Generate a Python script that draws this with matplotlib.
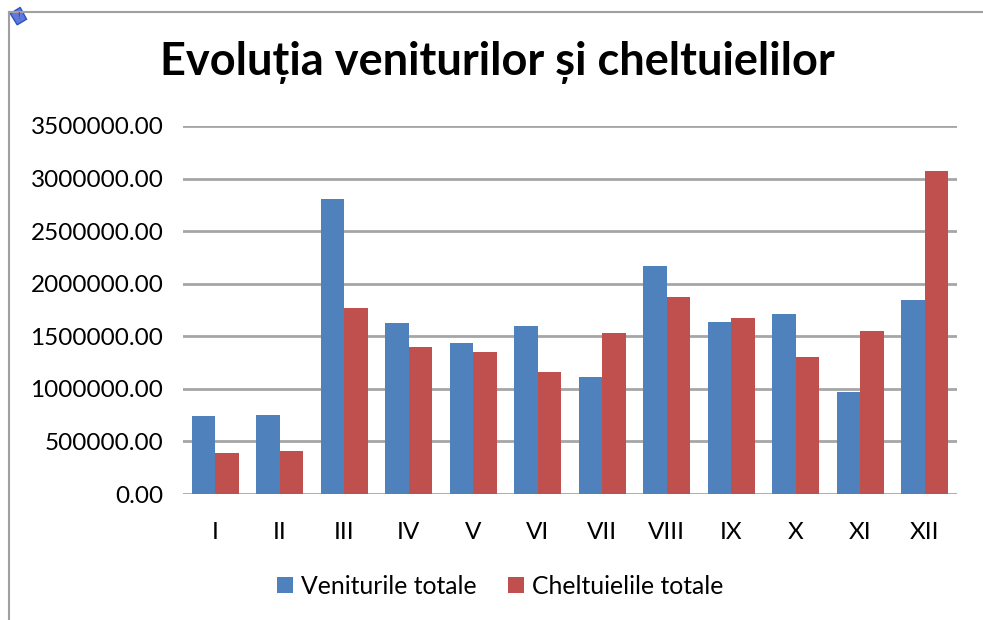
import matplotlib.pyplot as plt
import matplotlib.ticker as ticker
import matplotlib.patches as patches
import numpy as np

plt.rcParams['font.family'] = ['Lato', 'DejaVu Sans']

months = ["I", "II", "III", "IV", "V", "VI", "VII", "VIII", "IX", "X", "XI", "XII"]
venituri = [740000, 753000, 2804000, 1627000, 1437000, 1601000,
            1114000, 2171000, 1636000, 1715000, 969000, 1842000]
cheltuieli = [389000, 408000, 1772000, 1399000, 1354000, 1159000,
              1535000, 1871000, 1671000, 1304000, 1548000, 3070000]

fig = plt.figure(figsize=(9.83, 6.20), dpi=100)
ax = fig.add_axes([0.186, 0.2032, 0.7875, 0.5936])

x = np.arange(len(months))
w = 0.365
ax.bar(x - w / 2, venituri, w, color="#4F81BD", label="Veniturile totale", zorder=3)
ax.bar(x + w / 2, cheltuieli, w, color="#C0504D", label="Cheltuielile totale", zorder=3)

ax.set_xlim(-0.5, len(months) - 0.5)
ax.set_ylim(0, 3500000)
ax.yaxis.set_major_locator(ticker.MultipleLocator(500000))
ax.yaxis.set_major_formatter(ticker.FuncFormatter(lambda v, p: f"{v:.2f}"))
ax.set_xticks(x)
ax.set_xticklabels(months)
ax.grid(axis="y", color="#A6A6A6", linewidth=2, zorder=0)
for s in ax.spines.values():
    s.set_visible(False)
ax.tick_params(axis="both", length=0, labelsize=17.5, colors="black")
ax.tick_params(axis="y", pad=14)
ax.tick_params(axis="x", pad=20)

fig.text(0.506, 0.9, "Evoluția veniturilor și cheltuielilor", ha="center", va="center",
         fontsize=32.5, fontweight="bold")

ax.legend(loc="center", bbox_to_anchor=(0.41, -0.25), ncol=2, frameon=False,
          fontsize=17.8, handlelength=0.65, handleheight=0.65, columnspacing=1.3,
          handletextpad=0.3)

# chart frame, partly visible
fig.add_artist(plt.Line2D([9 / 983, 1], [1 - 12 / 620, 1 - 12 / 620], color="#A0A0A0", linewidth=1.5))
fig.add_artist(plt.Line2D([9 / 983, 9 / 983], [0, 1 - 12 / 620], color="#A0A0A0", linewidth=1.5))
icon = patches.Polygon([[0.0105, 0.978], [0.0205, 0.988], [0.027, 0.969], [0.0175, 0.96]],
                       closed=True, transform=fig.transFigure, facecolor="#5A7BE0", edgecolor="#3050C0")
fig.add_artist(icon)
fig.text(0.019, 0.974, "!", color="#D02020", fontsize=7, fontweight="bold", ha="center", va="center")

fig.savefig("out.png", dpi=100)
